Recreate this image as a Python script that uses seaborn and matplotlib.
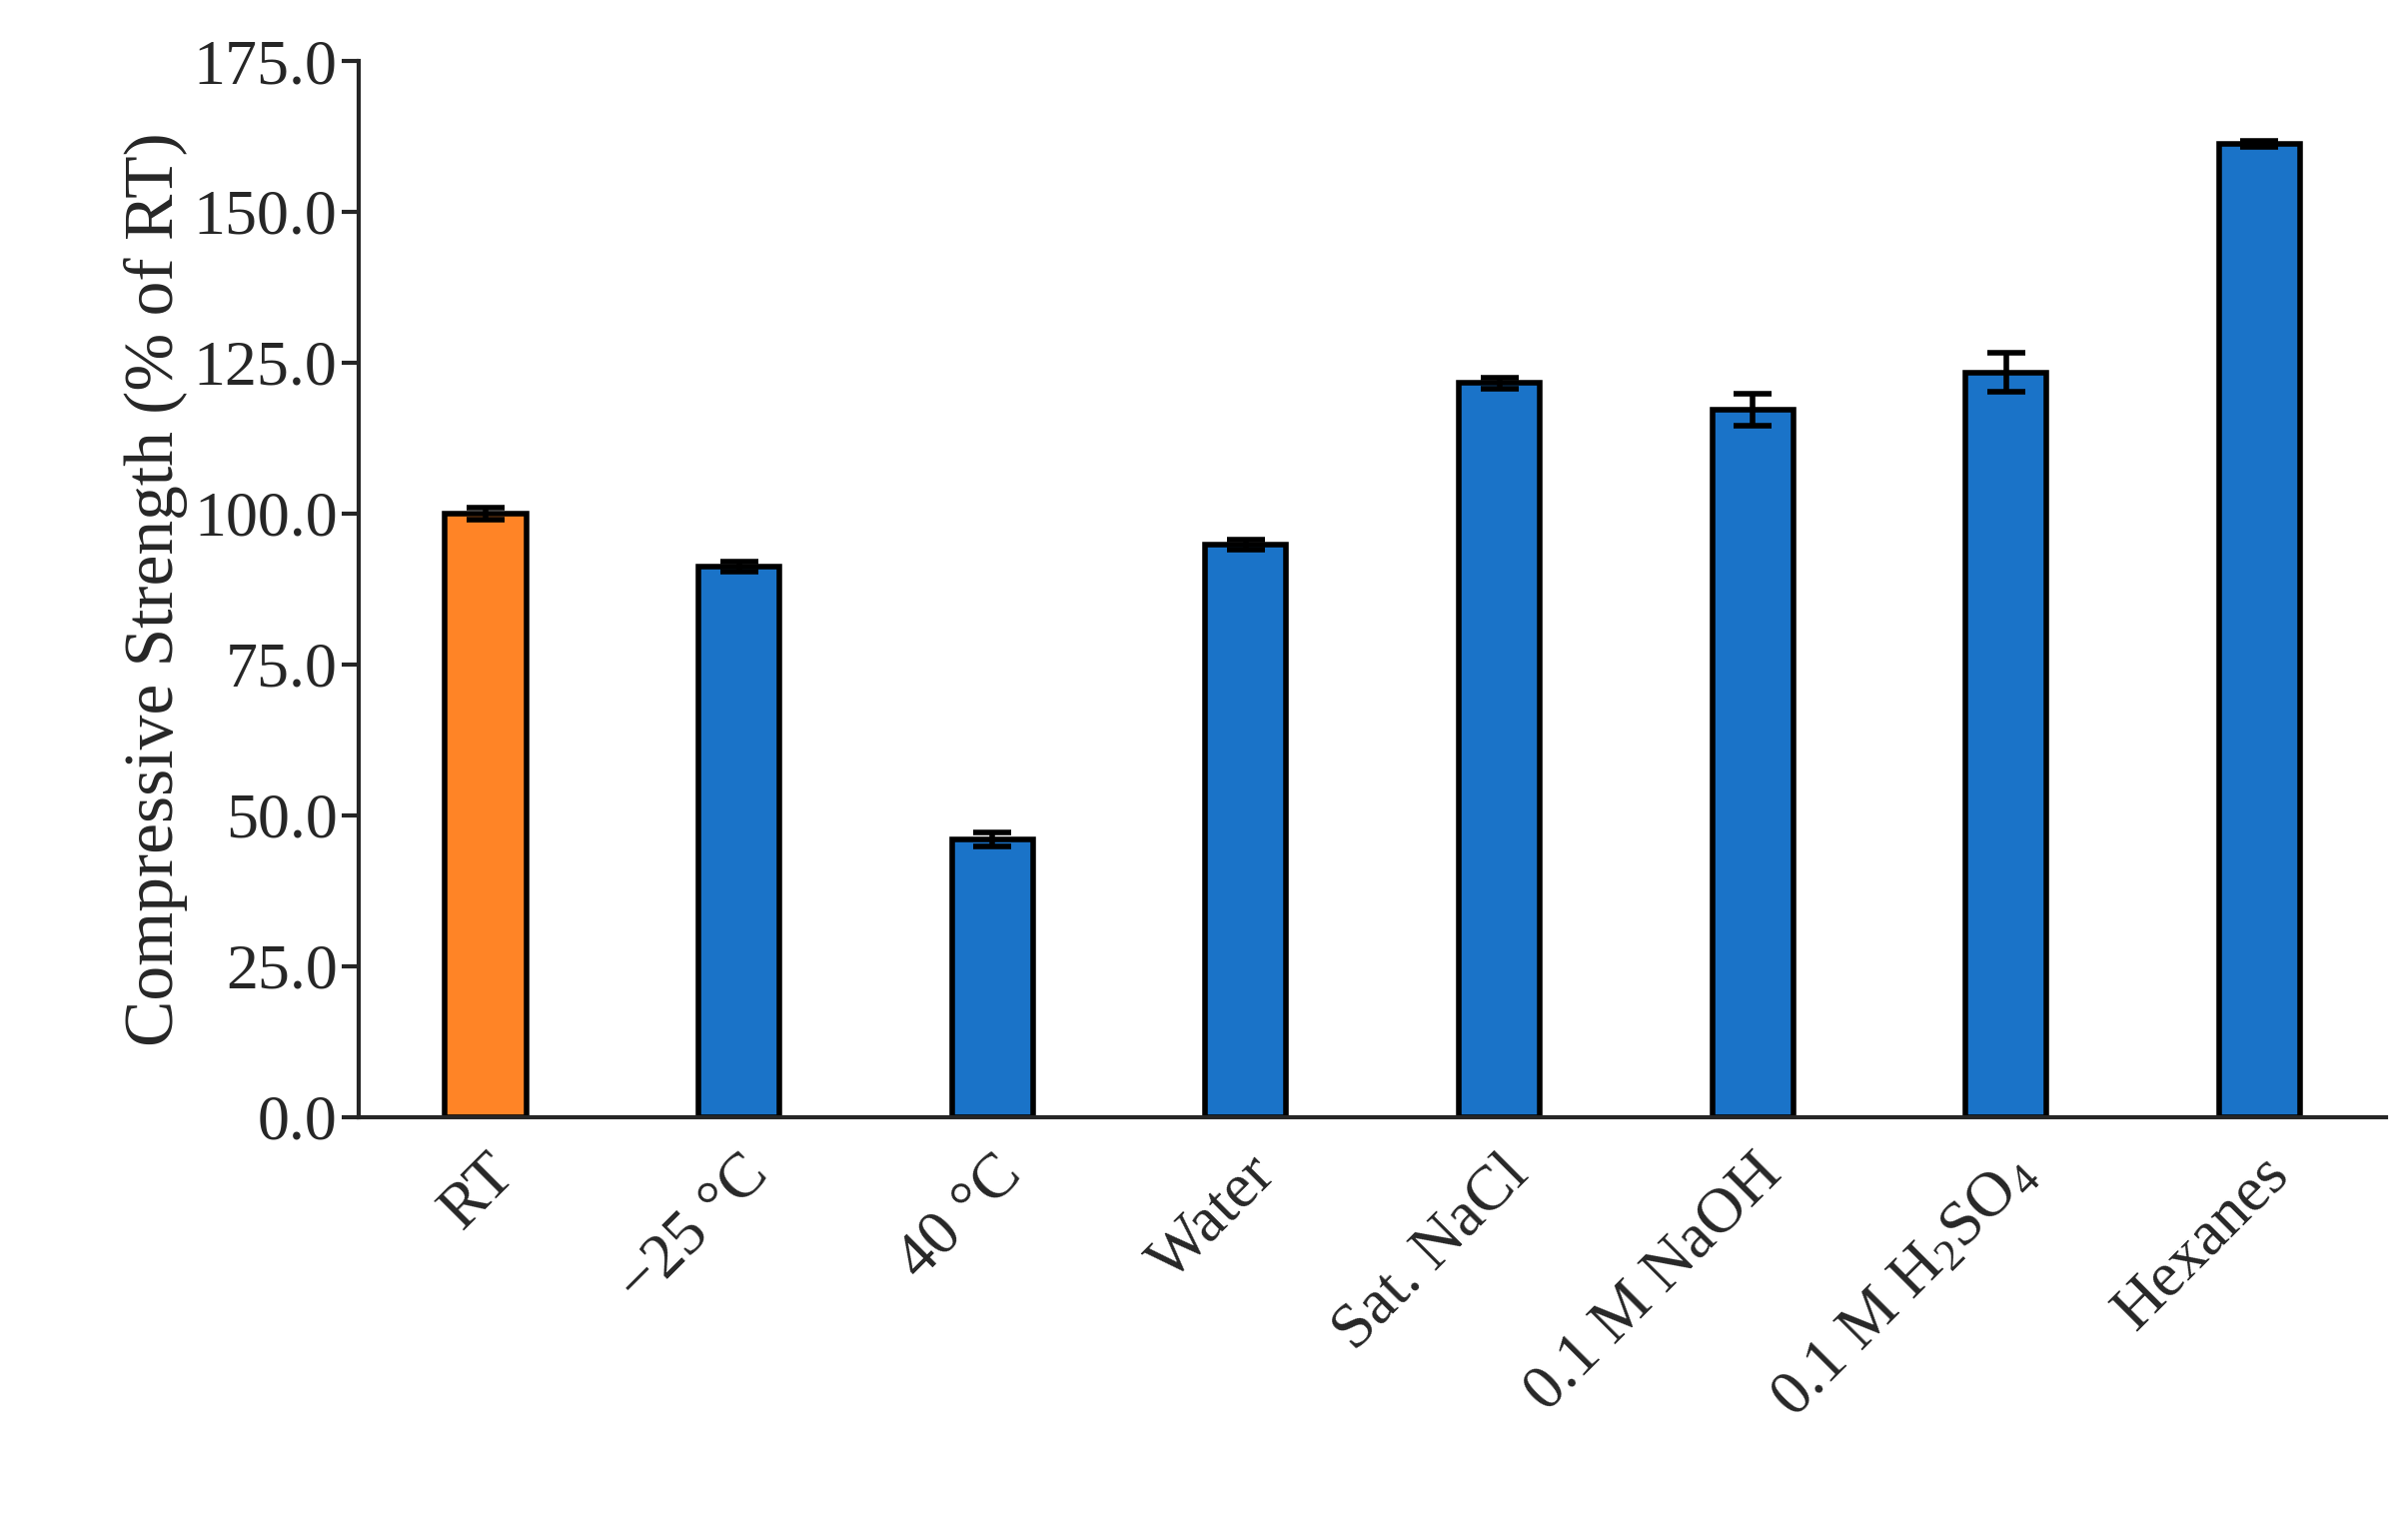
import matplotlib
matplotlib.use("Agg")
import matplotlib.pyplot as plt
import seaborn as sns
import pandas as pd

conditions = ["RT", "\u221225 \u00b0C", "40 \u00b0C", "Water", "Sat. NaCl", "0.1 M NaOH",
              "0.1 M H$_2$SO$_4$", "Hexanes"]
strength = [100.0, 91.2, 46.0, 94.8, 121.6, 117.2, 123.4, 161.2]
err = [1.0, 0.8, 1.2, 0.8, 0.9, 2.6, 3.2, 0.5]
colors = ["#FF8426"] + ["#1A73C8"] * 7

sns.set_style("ticks")
plt.rcParams["font.family"] = ["Liberation Serif", "DejaVu Serif"]
plt.rcParams["mathtext.fontset"] = "custom"
plt.rcParams["mathtext.rm"] = "Liberation Serif"
plt.rcParams["mathtext.it"] = "Liberation Serif"

df = pd.DataFrame({"cond": conditions, "val": strength})

fig = plt.figure(figsize=(24.1, 15.25), dpi=100)
ax = fig.add_axes([0.149, 0.267, 0.842, 0.693])
sns.barplot(data=df, x="cond", y="val", hue="cond", palette=colors, legend=False,
            width=0.32, edgecolor="black", linewidth=4, saturation=1, errorbar=None, ax=ax)
ax.errorbar(range(len(conditions)), strength, yerr=err, fmt="none", ecolor="black",
            elinewidth=4, capsize=14, capthick=4, zorder=5)

ax.set_ylim(0, 175)
ax.set_xlim(-0.5, 7.5)
ax.set_yticks([0, 25, 50, 75, 100, 125, 150, 175])
ax.set_yticklabels([f"{v:.1f}" for v in [0, 25, 50, 75, 100, 125, 150, 175]])
ax.set_xlabel("")
ax.set_ylabel("Compressive Strength (% of RT)", fontsize=50)
ax.tick_params(axis="y", labelsize=46, width=3, length=12, direction="out")
ax.tick_params(axis="x", labelsize=46, length=0, pad=20)
plt.setp(ax.get_xticklabels(), rotation=45, ha="right", rotation_mode="anchor")
sns.despine(ax=ax)
for s in ["left", "bottom"]:
    ax.spines[s].set_linewidth(3)

fig.savefig("out.png", dpi=100)
